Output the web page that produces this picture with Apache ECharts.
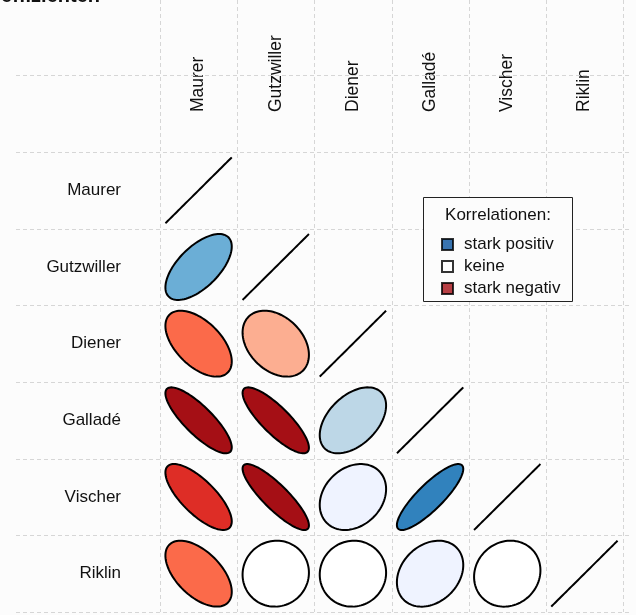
<!DOCTYPE html>
<html>
<head>
<meta charset="utf-8">
<script src="https://cdn.jsdelivr.net/npm/echarts@6/dist/echarts.min.js"></script>
<style>
  html, body { margin: 0; padding: 0; background: #fcfcfc; }
  #chart { width: 636px; height: 615px; }
</style>
</head>
<body>
<div id="chart"></div>
<script>
// Variables of the correlation matrix (rows top to bottom, columns left to right)
const variables = ['Maurer', 'Gutzwiller', 'Diener', 'Galladé', 'Vischer', 'Riklin'];

// Lower triangle of the correlation matrix, one array per row
const corrMaurer = [];
const corrGutzwiller = [0.62];
const corrDiener = [-0.54, -0.34];
const corrGallade = [-0.82, -0.83, 0.45];
const corrVischer = [-0.74, -0.86, 0.24, 0.85];
const corrRiklin = [-0.55, 0.03, 0.03, 0.26, 0.10];
const lowerRows = [corrMaurer, corrGutzwiller, corrDiener, corrGallade, corrVischer, corrRiklin];

// Fill colours: entry k (1-based) covers r in [(k-6)/5, (k-5)/5)
const palette = ['#A50F15', '#DE2D26', '#FB6A4A', '#FCAE91', '#FEE5D9', '#FFFFFF',
                 '#EFF3FF', '#BDD7E7', '#6BAED6', '#3182BD', '#08519C'];

// Legend entries
const legendTitle = 'Korrelationen:';
const legendNames = ['stark positiv', 'keine', 'stark negativ'];
const legendColors = ['#08519C', '#FFFFFF', '#A50F15'];

const chartTitle = 'Korrelationskoeffizienten';

// [column, row, r] for every cell of the lower triangle including the diagonal
const cells = [];
lowerRows.forEach((vals, row) => {
  vals.forEach((r, col) => cells.push([col, row, r]));
  cells.push([row, row, 1]);
});

const FONT = '"Liberation Sans", Arial, sans-serif';
const ELLIPSE_T = 0.43;   // half-size of an ellipse relative to its cell

function fillFor(r) {
  const k = Math.floor(5 * r + 6);          // 1-based palette position
  return palette[Math.max(0, Math.min(palette.length - 1, k - 1))];
}

function renderEllipse(params, api) {
  const col = api.value(0), row = api.value(1), r = api.value(2);
  const c = api.coord([col, row]);
  const s = api.size([1, 1]);
  const d = Math.acos(Math.max(-1, Math.min(1, r)));
  const pts = [];
  const n = 100;
  for (let k = 0; k < n; k++) {
    const a = 2 * Math.PI * k / (n - 1);
    pts.push([
      c[0] + ELLIPSE_T * s[0] * Math.cos(a + d / 2),
      c[1] - ELLIPSE_T * s[1] * Math.cos(a - d / 2)
    ]);
  }
  if (r >= 0.999) {
    return { type: 'polyline', shape: { points: pts },
             style: { stroke: '#000', lineWidth: 2, fill: null } };
  }
  return { type: 'polygon', shape: { points: pts },
           style: { fill: fillFor(r), stroke: '#000', lineWidth: 2 } };
}

// Dashed raster along the cell boundaries, extended into the label areas
function renderRaster(params, api) {
  const n = variables.length;
  const c0 = api.coord([0, 0]);
  const s = api.size([1, 1]);
  const x0 = c0[0] - s[0] / 2, y0 = c0[1] - s[1] / 2;
  const xEnd = x0 + n * s[0], yEnd = y0 + n * s[1];
  const style = { stroke: '#d6d6d6', lineWidth: 1, lineDash: [4, 3] };
  const children = [];
  for (let i = 0; i <= n; i++) {
    const x = Math.round(x0 + i * s[0]) + 0.5;
    children.push({ type: 'line', shape: { x1: x, y1: 0, x2: x, y2: yEnd }, style });
  }
  for (let i = -1; i <= n; i++) {
    const y = Math.round(y0 + i * s[1]) + 0.5;
    children.push({ type: 'line', shape: { x1: x0 - 144, y1: y, x2: xEnd + 7, y2: y }, style });
  }
  return { type: 'group', children };
}

const chart = echarts.init(document.getElementById('chart'), null, { renderer: 'canvas' });

const legendSeries = legendNames.map((name, i) => ({
  name, type: 'scatter', data: [],
  itemStyle: { color: legendColors[i], borderColor: '#000', borderWidth: 1 }
}));

chart.setOption({
  animation: false,
  backgroundColor: '#fcfcfc',
  grid: { left: 160, right: 13, top: 152, bottom: 3 },
  xAxis: {
    type: 'category', position: 'top', data: variables,
    axisLine: { show: false }, axisTick: { show: false }, splitLine: { show: false },
    axisLabel: { rotate: -90, margin: 40, fontSize: 17.5, color: '#111', fontFamily: FONT }
  },
  yAxis: {
    type: 'category', inverse: true, data: variables,
    axisLine: { show: false }, axisTick: { show: false }, splitLine: { show: false },
    axisLabel: { margin: 39, fontSize: 17, color: '#111', fontFamily: FONT }
  },
  legend: {
    data: legendNames, orient: 'vertical', left: 436, top: 231,
    icon: 'rect', itemWidth: 11, itemHeight: 11, itemGap: 5,
    selectedMode: false,
    textStyle: { fontSize: 17, lineHeight: 16, color: '#111', fontFamily: FONT, padding: [0, 0, 0, 6] }
  },
  graphic: [
    { type: 'rect', z: 3, shape: { x: 423.5, y: 197.5, width: 149, height: 104 },
      style: { fill: '#fcfcfc', stroke: '#222', lineWidth: 1 } },
    { type: 'text', z: 5, x: 498, y: 215,
      style: { text: legendTitle, font: '17px ' + FONT, fill: '#111',
               align: 'center', verticalAlign: 'middle', textAlign: 'center', textVerticalAlign: 'middle' } },
    { type: 'text', z: 5, x: 100, y: 6,
      style: { text: chartTitle, font: 'bold 20px ' + FONT, fill: '#111',
               align: 'right', verticalAlign: 'bottom', textAlign: 'right', textVerticalAlign: 'bottom' } }
  ],
  series: [
    { type: 'custom', name: 'raster', z: 1, silent: true, clip: false,
      data: [[0, 0]], renderItem: renderRaster },
    { type: 'custom', name: 'ellipses', z: 2, clip: false,
      data: cells, renderItem: renderEllipse },
    ...legendSeries
  ]
});
</script>
</body>
</html>
